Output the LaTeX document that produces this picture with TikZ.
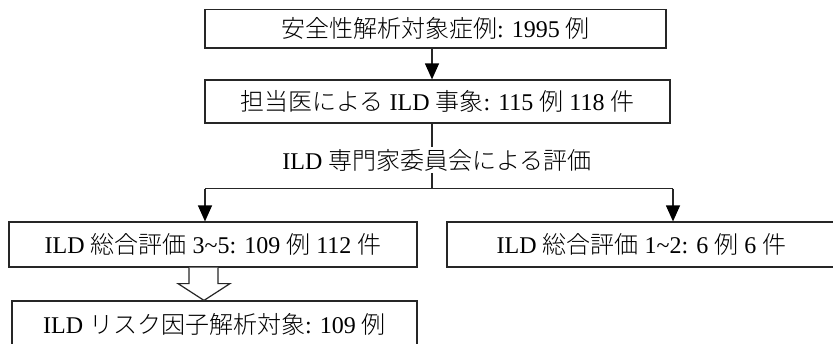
\documentclass[tikz,border=0pt]{standalone}
\usepackage{fontspec}
\setmainfont{Liberation Serif}
\newfontfamily\cjkfont{Noto Sans CJK JP Light}
\newcommand{\J}[1]{{\cjkfont #1}}
\usetikzlibrary{arrows.meta}
\begin{document}
\begin{tikzpicture}[x=1pt,y=-1pt,
  boxst/.style={draw=black!85,line width=1.2pt,rectangle,inner sep=0pt,font=\fontsize{24}{28}\selectfont,text=black},
  lnst/.style={draw=black!85,line width=1.2pt},
  arr/.style={lnst,-{Triangle[width=14pt,length=16pt,color=black,fill=black]}}]
\useasboundingbox (0,0) rectangle (833,343);
\node[boxst,minimum width=461pt,minimum height=38.5pt] (b1) at (435.5,28.75) {\J{安全性解析対象症例}: 1995 \J{例}};
\node[boxst,minimum width=465pt,minimum height=43pt] (b2) at (437.5,101.5) {\J{担当医による} ILD \J{事象}: 115 \J{例} 118 \J{件}};
\node[boxst,minimum width=408pt,minimum height=45pt] (b3) at (213,244.5) {ILD \J{総合評価} 3\textasciitilde5: 109 \J{例} 112 \J{件}};
\node[boxst,minimum width=389pt,minimum height=45pt] (b4) at (641.5,244.5) {ILD \J{総合評価} 1\textasciitilde2: 6 \J{例} 6 \J{件}};
\node[boxst,minimum width=405pt,minimum height=46pt] (b5) at (214.5,324) {ILD \J{リスク因子解析対象}: 109 \J{例}};
\coordinate (c1) at (432,0);
\coordinate (j) at (432,188.5);
\coordinate (jl) at (205,188.5);
\coordinate (jr) at (673,188.5);
\draw[arr] (b1.south -| c1) -- (b2.north -| c1);
\draw[lnst] (b2.south -| c1) -- (j);
\draw[lnst] (jl) -- (jr);
\draw[arr] (jl) -- (b3.north -| jl);
\draw[arr] (jr) -- (b4.north -| jr);
\node[fill=white,inner sep=2pt,font=\fontsize{24}{28}\selectfont] (lab) at (437,160) {ILD \J{専門家委員会による評価}};
% hollow arrow
\coordinate (h) at (b3.south -| 204,0);
\draw[lnst,fill=white,line join=miter] ([xshift=-15pt]h) -- ([xshift=-15pt,yshift=-16pt]h) -- ([xshift=-26pt,yshift=-16pt]h) -- (b5.north -| h) -- ([xshift=26pt,yshift=-16pt]h) -- ([xshift=14pt,yshift=-16pt]h) -- ([xshift=14pt]h);
\end{tikzpicture}
\end{document}
